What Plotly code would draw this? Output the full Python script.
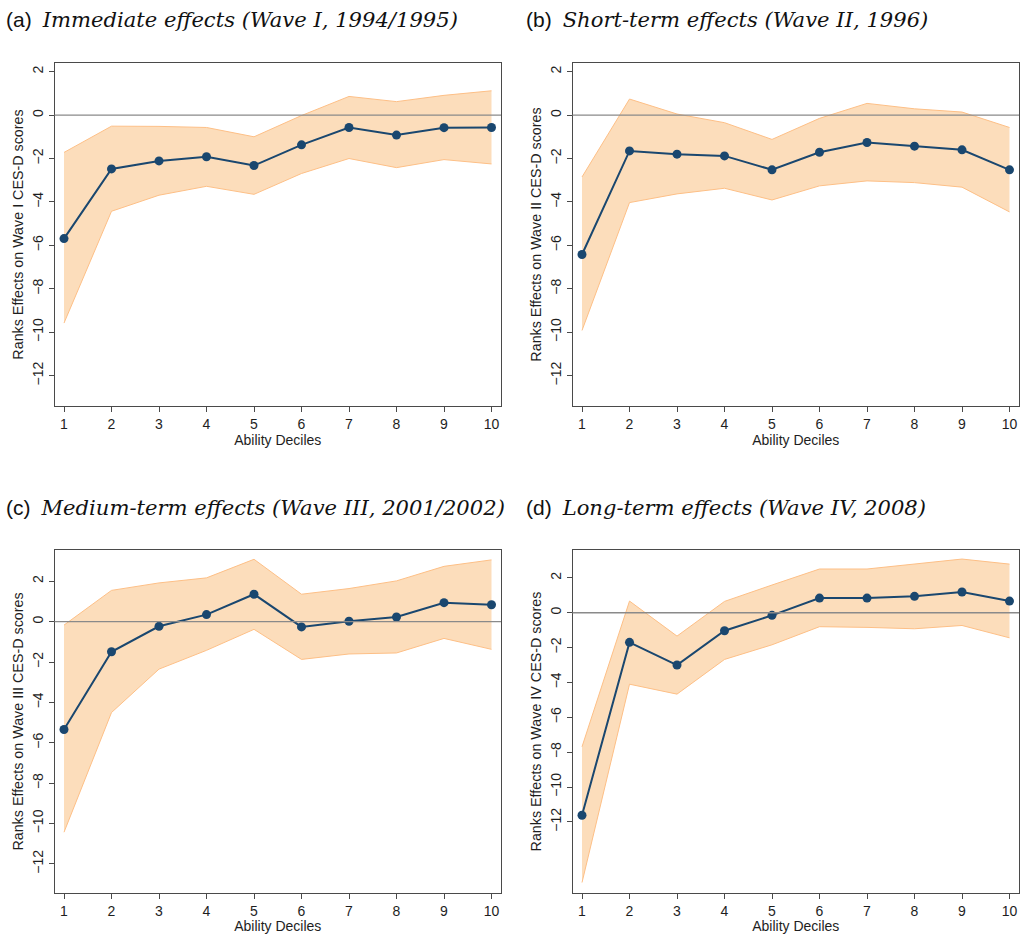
import plotly.graph_objects as go

deciles = [1, 2, 3, 4, 5, 6, 7, 8, 9, 10]

# Panel (a) Wave I
est_a = [-5.69, -2.48, -2.11, -1.92, -2.32, -1.37, -0.57, -0.92, -0.58, -0.57]
hi_a = [-1.72, -0.51, -0.52, -0.57, -1.00, -0.02, 0.86, 0.62, 0.91, 1.12]
lo_a = [-9.58, -4.43, -3.69, -3.28, -3.65, -2.69, -2.00, -2.42, -2.05, -2.25]

# Panel (b) Wave II
est_b = [-6.42, -1.65, -1.80, -1.88, -2.52, -1.71, -1.26, -1.43, -1.60, -2.52]
hi_b = [-2.85, 0.74, 0.05, -0.35, -1.12, -0.15, 0.54, 0.29, 0.14, -0.57]
lo_b = [-9.92, -4.03, -3.63, -3.37, -3.91, -3.26, -3.03, -3.11, -3.32, -4.46]

# Panel (c) Wave III
est_c = [-5.34, -1.49, -0.23, 0.35, 1.36, -0.26, 0.02, 0.23, 0.94, 0.84]
hi_c = [-0.17, 1.55, 1.92, 2.17, 3.09, 1.36, 1.64, 2.02, 2.74, 3.06]
lo_c = [-10.43, -4.50, -2.35, -1.42, -0.38, -1.87, -1.60, -1.55, -0.83, -1.37]

# Panel (d) Wave IV
est_d = [-11.62, -1.70, -3.00, -1.03, -0.15, 0.84, 0.84, 0.94, 1.19, 0.67]
hi_d = [-7.69, 0.67, -1.34, 0.65, 1.59, 2.51, 2.51, 2.79, 3.08, 2.79]
lo_d = [-15.48, -4.10, -4.67, -2.68, -1.84, -0.80, -0.84, -0.92, -0.73, -1.44]

panel_labels = ["(a)", "(b)", "(c)", "(d)"]
panel_titles = [
    "Immediate effects (Wave I, 1994/1995)",
    "Short-term effects (Wave II, 1996)",
    "Medium-term effects (Wave III, 2001/2002)",
    "Long-term effects (Wave IV, 2008)",
]
y_titles = [
    "Ranks Effects on Wave I CES-D scores",
    "Ranks Effects on Wave II CES-D scores",
    "Ranks Effects on Wave III CES-D scores",
    "Ranks Effects on Wave IV CES-D scores",
]
x_title = "Ability Deciles"
y_ticks = [2, 0, -2, -4, -6, -8, -10, -12]
y_tick_text = ["2", "0", "\u22122", "\u22124", "\u22126", "\u22128", "\u221210", "\u221212"]
y_ranges = [[-13.4, 2.4], [-13.4, 2.4], [-13.44, 3.55], [-16.08, 3.6]]

W, H = 1027, 934
NAVY = "#1a476f"
FILL = "rgba(252,221,187,1)"
EDGE = "#fdbf86"

# pixel boxes (left, top, right, bottom)
boxes = [
    (54.5, 63, 501, 406),
    (572.5, 63, 1019, 406),
    (54.5, 550, 501, 893),
    (572.5, 550, 1019, 893),
]

data = [(est_a, hi_a, lo_a), (est_b, hi_b, lo_b), (est_c, hi_c, lo_c), (est_d, hi_d, lo_d)]

fig = go.Figure()
font_sans = "Liberation Sans, Arial, sans-serif"
TXT = "#1e1e1e"

for i, (est, hi, lo) in enumerate(data):
    xa = "x" if i == 0 else f"x{i+1}"
    ya = "y" if i == 0 else f"y{i+1}"
    fig.add_trace(go.Scatter(x=deciles, y=lo, mode="lines", line=dict(color=EDGE, width=1),
                             xaxis=xa, yaxis=ya, showlegend=False, hoverinfo="skip"))
    fig.add_trace(go.Scatter(x=deciles, y=hi, mode="lines", line=dict(color=EDGE, width=1),
                             fill="tonexty", fillcolor=FILL,
                             xaxis=xa, yaxis=ya, showlegend=False, hoverinfo="skip"))
    fig.add_trace(go.Scatter(x=deciles, y=est, mode="lines+markers",
                             line=dict(color=NAVY, width=2),
                             marker=dict(color=NAVY, size=9),
                             xaxis=xa, yaxis=ya, showlegend=False))

    l, t, r, b = boxes[i]
    xdom = [l / W, r / W]
    ydom = [1 - b / H, 1 - t / H]
    axis_common = dict(showline=True, mirror=True, linecolor="#4a4a4a", linewidth=1,
                       showgrid=False, zeroline=False, ticks="outside", ticklen=5,
                       tickcolor="#4a4a4a", automargin=False,
                       tickfont=dict(family=font_sans, size=14, color=TXT))
    xkey = "xaxis" if i == 0 else f"xaxis{i+1}"
    ykey = "yaxis" if i == 0 else f"yaxis{i+1}"
    fig.layout[xkey] = dict(domain=xdom, anchor=ya, range=[0.8, 10.2],
                            tickvals=deciles, ticktext=[str(d) for d in deciles],
                            title=dict(text=x_title, standoff=3,
                                       font=dict(family=font_sans, size=14, color=TXT)),
                            **axis_common)
    fig.layout[ykey] = dict(domain=ydom, anchor=xa, range=y_ranges[i],
                            tickvals=y_ticks, ticktext=y_tick_text, tickangle=-90,
                            title=dict(text=y_titles[i], standoff=2,
                                       font=dict(family=font_sans, size=14.3, color=TXT)),
                            **axis_common)
    # zero reference line
    fig.add_shape(type="line", xref=f"{xa} domain", yref=ya, x0=0, x1=1, y0=0, y1=0,
                  line=dict(color="#8a8a8a", width=1.3), layer="above")
    # panel title
    tx = 4 / W if i % 2 == 0 else 524 / W
    ty = 1 - (18 / H) if i < 2 else 1 - (506 / H)
    fig.add_annotation(
        xref="paper", yref="paper", x=tx, y=ty, xanchor="left", yanchor="middle",
        showarrow=False,
        text=(f"<span style='font-family:Liberation Sans, Arial;font-size:21px'>{panel_labels[i]}</span>  "
              f"<i><span style='font-family:DejaVu Serif, Liberation Serif, serif;font-weight:300'>{panel_titles[i]}</span></i>"),
        font=dict(size=21.1, color="#111"),
    )

fig.update_layout(width=W, height=H, margin=dict(l=0, r=0, t=0, b=0),
                  paper_bgcolor="white", plot_bgcolor="white")

fig.write_html("out.html")
